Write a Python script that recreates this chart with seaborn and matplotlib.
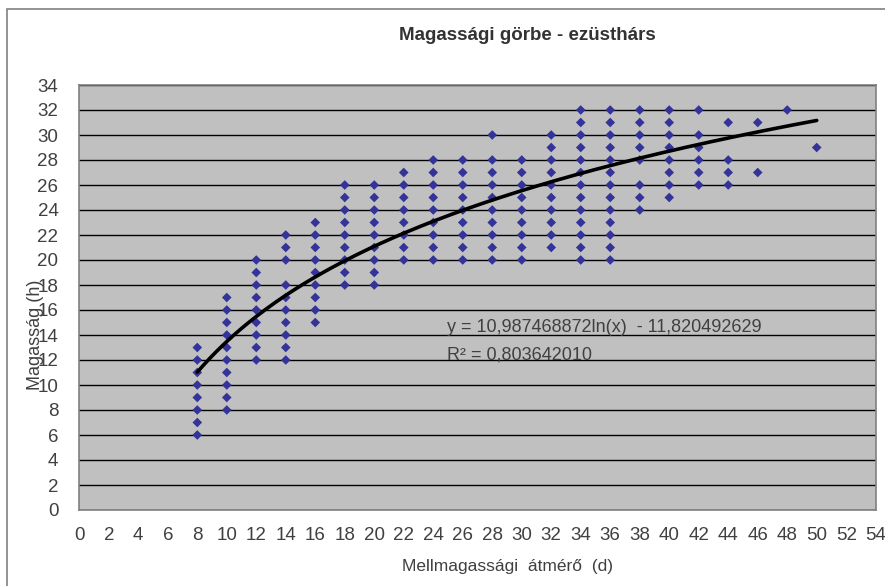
import numpy as np
import pandas as pd
import matplotlib
matplotlib.use("Agg")
import matplotlib.pyplot as plt
import seaborn as sns
from matplotlib.patches import Rectangle

# mellmagassági átmérő (d) oszlopok és a hozzájuk tartozó magasságok (h)
diameters = [8, 10, 12, 14, 16, 18, 20, 22, 24, 26, 28, 30, 32, 34, 36, 38, 40, 42, 44, 46, 48, 50]
heights = [
    [6, 7, 8, 9, 10, 11, 12, 13],
    [8, 9, 10, 11, 12, 13, 14, 15, 16, 17],
    [12, 13, 14, 15, 16, 17, 18, 19, 20],
    [12, 13, 14, 15, 16, 17, 18, 20, 21, 22],
    [15, 16, 17, 18, 19, 20, 21, 22, 23],
    [18, 19, 20, 21, 22, 23, 24, 25, 26],
    [18, 19, 20, 21, 22, 23, 24, 25, 26],
    [20, 21, 22, 23, 24, 25, 26, 27],
    [20, 21, 22, 23, 24, 25, 26, 27, 28],
    [20, 21, 22, 23, 24, 25, 26, 27, 28],
    [20, 21, 22, 23, 24, 25, 26, 27, 28, 30],
    [20, 21, 22, 23, 24, 25, 26, 27, 28],
    [21, 22, 23, 24, 25, 26, 27, 28, 29, 30],
    [20, 21, 22, 23, 24, 25, 26, 27, 28, 29, 30, 31, 32],
    [20, 21, 22, 23, 24, 25, 26, 27, 28, 29, 30, 31, 32],
    [24, 25, 26, 28, 29, 30, 31, 32],
    [25, 26, 27, 28, 29, 30, 31, 32],
    [26, 27, 28, 29, 30, 32],
    [26, 27, 28, 31],
    [27, 31],
    [32],
    [29],
]

# trendvonal együtthatói (az ábrán kiírt egyenletből)
coef_a = 10.987468872
coef_b = -11.820492629
r2 = 0.803642010
trend_range = [8, 50]

x_ticks = list(range(0, 55, 2))
y_ticks = list(range(0, 35, 2))

rows = [(d, h) for d, hs in zip(diameters, heights) for h in hs]
df = pd.DataFrame(rows, columns=["d", "h"])

xs = np.linspace(trend_range[0], trend_range[1], 200)
trend = pd.DataFrame({"d": xs, "h": coef_a * np.log(xs) + coef_b})

sns.set_style("white")
plt.rcParams["font.family"] = ["Liberation Sans Narrow", "Liberation Sans", "DejaVu Sans"]

W, H = 885, 586
fig = plt.figure(figsize=(W / 100, H / 100), dpi=100)
fig.patches.append(Rectangle((7 / W, -0.1), 1.2, 1.1 - 9 / H, transform=fig.transFigure,
                             fill=False, edgecolor="#808080", lw=1.2))

ax = fig.add_axes([79.3 / W, 1 - 510 / H, (875.7 - 79.3) / W, (510 - 85) / H])
ax.set_facecolor("#C0C0C0")

sns.scatterplot(data=df, x="d", y="h", marker="D", s=24, color="#333399",
                edgecolor="none", ax=ax, zorder=3)
sns.lineplot(data=trend, x="d", y="h", color="black", lw=2.6, ax=ax, zorder=4)

ax.set_xlim(0, 54)
ax.set_ylim(0, 34)
ax.set_xticks(x_ticks)
ax.set_yticks(y_ticks)
ax.yaxis.grid(True, color="black", lw=1)
ax.set_axisbelow(True)
ax.set_xlabel("")
ax.set_ylabel("")
for s in ax.spines.values():
    s.set_color("#808080")
    s.set_linewidth(1.2)
ax.tick_params(axis="both", direction="out", length=5, width=1, color="black",
               labelsize=13.5, labelcolor="#404040")
ax.tick_params(axis="y", pad=10)
ax.tick_params(axis="x", pad=7)

fig.text(527 / W, 1 - 35 / H, "Magassági görbe - ezüsthárs", ha="center", va="center",
         fontsize=13.5, fontweight="bold", color="#333333")
fig.text(508 / W, 1 - 566 / H, "Mellmagassági  átmérő  (d)", ha="center", va="center",
         fontsize=12.5, color="#404040")
fig.text(36 / W, 1 - 335 / H, "Magasság (h)", ha="center", va="center", rotation=90,
         fontsize=13, color="#404040")
fig.text(447 / W, 1 - 328 / H, "y = 10,987468872ln(x)  - 11,820492629", ha="left", va="center",
         fontsize=13, color="#404040")
fig.text(447 / W, 1 - 355 / H, "R² = 0,803642010", ha="left", va="center",
         fontsize=13, color="#404040")

fig.savefig("out.png", dpi=100)
